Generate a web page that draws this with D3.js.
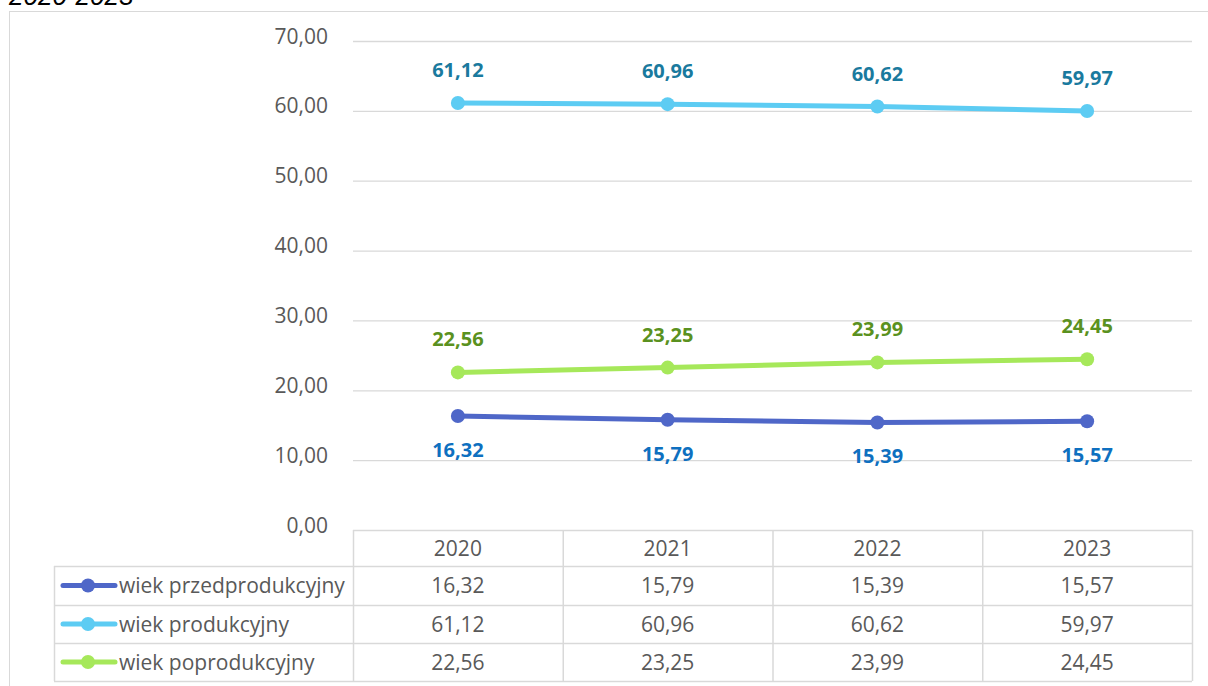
<!DOCTYPE html>
<html><head><meta charset="utf-8">
<script src="https://cdn.jsdelivr.net/npm/d3@7/dist/d3.min.js"></script>
<style>body{margin:0;background:#fff;}svg{display:block;}</style>
</head><body>
<script>
const years = ["2020","2021","2022","2023"];
const seriesNames = ["wiek przedprodukcyjny","wiek produkcyjny","wiek poprodukcyjny"];
const przed = [16.32,15.79,15.39,15.57];
const prod = [61.12,60.96,60.62,59.97];
const popr = [22.56,23.25,23.99,24.45];
const yTicks = [0,10,20,30,40,50,60,70];

const W=1208,H=686;
const svg=d3.select("body").append("svg").attr("width",W).attr("height",H);
const font="'Open Sans', sans-serif";
const fmt=v=>v.toFixed(2).replace(".",",");

// outer border
svg.append("rect").attr("x",9.5).attr("y",11.5).attr("width",1210).attr("height",700)
  .attr("fill","none").attr("stroke","#d9d9d9").attr("stroke-width",1);
// title (cut off at the top, as in the source)
svg.append("text").attr("x",9).attr("y",5).attr("font-family","'Liberation Sans', Arial, sans-serif")
  .attr("font-size",26).attr("font-style","italic").attr("fill","#000").text("2020-2023");

const x0=353,x1=1192;
const x=d3.scaleBand().domain(years).range([x0,x1]);
const y=d3.scaleLinear().domain([0,70]).range([530,41]);

// gridlines
svg.append("g").selectAll("line").data(yTicks.filter(d=>d>0)).join("line")
  .attr("x1",x0).attr("x2",x1).attr("y1",d=>y(d)+0.5).attr("y2",d=>y(d)+0.5)
  .attr("stroke","#d9d9d9").attr("stroke-width",1.3);
// y axis labels
const ya=d3.axisLeft(y).tickValues(yTicks).tickSize(0).tickFormat(fmt);
const yg=svg.append("g").attr("transform",`translate(${331},0)`).call(ya);
yg.select(".domain").remove();
yg.selectAll("text").attr("font-family",font).attr("font-size",21).attr("fill","#595959").attr("dy","0.1em");

const series=[
 {name:seriesNames[0],vals:przed,line:"#4F67C8",lab:"#0E70C0",pos:"below"},
 {name:seriesNames[1],vals:prod,line:"#5DCCF3",lab:"#1A7A9E",pos:"above"},
 {name:seriesNames[2],vals:popr,line:"#A6E85A",lab:"#5A9120",pos:"above"}
];
const cx=d=>x(d)+x.bandwidth()/2;
series.forEach(s=>{
  const pts=years.map((yr,i)=>({yr,v:s.vals[i]}));
  svg.append("path").datum(pts).attr("fill","none").attr("stroke",s.line).attr("stroke-width",5)
    .attr("stroke-linejoin","round")
    .attr("d",d3.line().x(d=>cx(d.yr)).y(d=>y(d.v)));
  svg.append("g").selectAll("circle").data(pts).join("circle")
    .attr("cx",d=>cx(d.yr)).attr("cy",d=>y(d.v)).attr("r",7).attr("fill",s.line);
  svg.append("g").selectAll("text").data(pts).join("text")
    .attr("x",d=>cx(d.yr)).attr("y",d=>s.pos==="above"?y(d.v)-26:y(d.v)+41)
    .attr("text-anchor","middle").attr("font-family",font).attr("font-weight","bold")
    .attr("font-size",20).attr("fill",s.lab).text(d=>fmt(d.v));
});

// data table
const rowY=[530,566,605,643,681];
const tl=54;
const g=svg.append("g");
const st="#d9d9d9";
g.append("line").attr("x1",x0).attr("x2",x1).attr("y1",rowY[0]+0.5).attr("y2",rowY[0]+0.5).attr("stroke",st).attr("stroke-width",1.5);
for(let r=1;r<rowY.length;r++){
  g.append("line").attr("x1",tl).attr("x2",x1).attr("y1",rowY[r]+0.5).attr("y2",rowY[r]+0.5).attr("stroke",st).attr("stroke-width",1.5);
}
g.append("line").attr("x1",tl+0.5).attr("x2",tl+0.5).attr("y1",rowY[1]).attr("y2",rowY[4]).attr("stroke",st).attr("stroke-width",1.5);
const colEdges=years.map(d=>x(d)).concat([x1]);
colEdges.forEach(e=>g.append("line").attr("x1",e+0.5).attr("x2",e+0.5).attr("y1",rowY[0]).attr("y2",rowY[4]).attr("stroke",st).attr("stroke-width",1.5));
g.selectAll("text.hdr").data(years).join("text").attr("class","hdr")
  .attr("x",d=>cx(d)).attr("y",(rowY[0]+rowY[1])/2).attr("dy","0.36em")
  .attr("text-anchor","middle").attr("font-family",font).attr("font-size",21).attr("fill","#595959").text(d=>d);
series.forEach((s,i)=>{
  const cyM=(rowY[i+1]+rowY[i+2])/2;
  g.append("line").attr("x1",63).attr("x2",115).attr("y1",cyM).attr("y2",cyM).attr("stroke",s.line).attr("stroke-width",5).attr("stroke-linecap","round");
  g.append("circle").attr("cx",88).attr("cy",cyM).attr("r",7).attr("fill",s.line);
  g.append("text").attr("x",119).attr("y",cyM).attr("dy","0.36em").attr("font-family",font).attr("font-size",21).attr("fill","#595959").text(s.name);
  g.selectAll(null).data(years).join("text")
    .attr("x",d=>cx(d)).attr("y",cyM).attr("dy","0.36em").attr("text-anchor","middle")
    .attr("font-family",font).attr("font-size",21).attr("fill","#595959").text((d,j)=>fmt(s.vals[j]));
});
</script>
</body></html>
